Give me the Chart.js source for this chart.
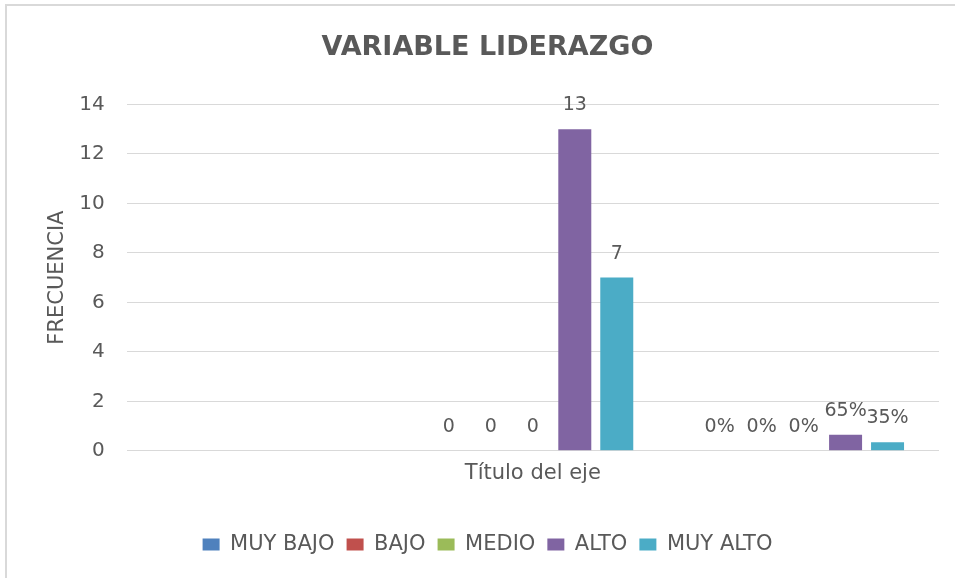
<!DOCTYPE html>
<html>
<head>
<meta charset="utf-8">
<script src="https://cdn.jsdelivr.net/npm/chart.js@4"></script>
<style>
    body { margin: 0; background: #fff; }
    #wrap { position: relative; width: 955px; height: 578px; }
    #frame {
        position: absolute; left: 5px; top: 4px; right: 0; bottom: 0;
        border-top: 2px solid #d9d9d9; border-left: 2px solid #d9d9d9;
    }
    canvas { position: absolute; left: 0; top: 0; }
</style>
</head>
<body>
<div id="wrap">
    <div id="frame"></div>
    <canvas id="liderazgoCanvas" width="955" height="578"></canvas>
</div>
<script>
// three slots on the axis, the first one is empty in the original
const categories = ["", "", ""];
const labelFormat = ["", "count", "percent"];

const seriesNames = ["MUY BAJO", "BAJO", "MEDIO", "ALTO", "MUY ALTO"];
const muyBajo = [null, 0, 0];
const bajo = [null, 0, 0];
const medio = [null, 0, 0];
const alto = [null, 13, 0.65];
const muyAlto = [null, 7, 0.35];
const seriesColors = ["#4F81BD", "#C0504D", "#9BBB59", "#8064A2", "#4BACC6"];

const yTicks = [0, 2, 4, 6, 8, 10, 12, 14];

const textColor = "#595959";
const fontFamily = "'DejaVu Sans', sans-serif";

const valueLabels = {
    id: "valueLabels",
    afterDatasetsDraw(chart) {
        const ctx = chart.ctx;
        ctx.save();
        ctx.font = "19px " + fontFamily;
        ctx.fillStyle = textColor;
        ctx.textAlign = "center";
        ctx.textBaseline = "alphabetic";
        chart.data.datasets.forEach((ds, i) => {
            const meta = chart.getDatasetMeta(i);
            meta.data.forEach((bar, j) => {
                const v = ds.data[j];
                if (v === null) return;
                let text = labelFormat[j] === "percent" ? Math.round(v * 100) + "%" : String(v);
                ctx.fillText(text, bar.x, bar.y - 19);
            });
        });
        ctx.restore();
    },
};

const allSeries = [muyBajo, bajo, medio, alto, muyAlto];

const ctx = document.getElementById("liderazgoCanvas").getContext("2d");
const liderazgoChart = new Chart(ctx, {
    type: "bar",
    data: {
        labels: categories,
        datasets: allSeries.map((values, i) => ({
            label: seriesNames[i],
            data: values,
            backgroundColor: seriesColors[i],
            borderWidth: 0,
            categoryPercentage: 0.775,
            barPercentage: 0.786,
        })),
    },
    options: {
        responsive: false,
        animation: false,
        layout: { padding: { left: 36, right: 16, top: 0, bottom: 13 } },
        plugins: {
            title: {
                display: true,
                text: "VARIABLE LIDERAZGO",
                color: textColor,
                font: { family: fontFamily, size: 27, weight: "bold" },
                padding: { top: 32, bottom: 40 },
            },
            legend: {
                position: "bottom",
                labels: {
                    color: textColor,
                    font: { family: fontFamily, size: 21 },
                    boxWidth: 17,
                    boxHeight: 12,
                    padding: 12,
                },
            },
            tooltip: { enabled: false },
        },
        scales: {
            x: {
                grid: { display: false },
                border: { display: false },
                ticks: { display: false },
                title: {
                    display: true,
                    text: "Título del eje",
                    color: textColor,
                    font: { family: fontFamily, size: 21 },
                    padding: { top: 2, bottom: 36 },
                },
            },
            y: {
                min: 0,
                max: 14,
                afterBuildTicks: (axis) => {
                    axis.ticks = yTicks.map((v) => ({ value: v }));
                },
                grid: { color: "#d9d9d9", drawTicks: false },
                border: { display: false },
                ticks: {
                    color: textColor,
                    font: { family: fontFamily, size: 20 },
                    padding: 22,
                },
                title: {
                    display: true,
                    text: "FRECUENCIA",
                    color: textColor,
                    font: { family: fontFamily, size: 21 },
                    padding: { top: 9, bottom: -13 },
                },
            },
        },
    },
    plugins: [valueLabels],
});
</script>
</body>
</html>
